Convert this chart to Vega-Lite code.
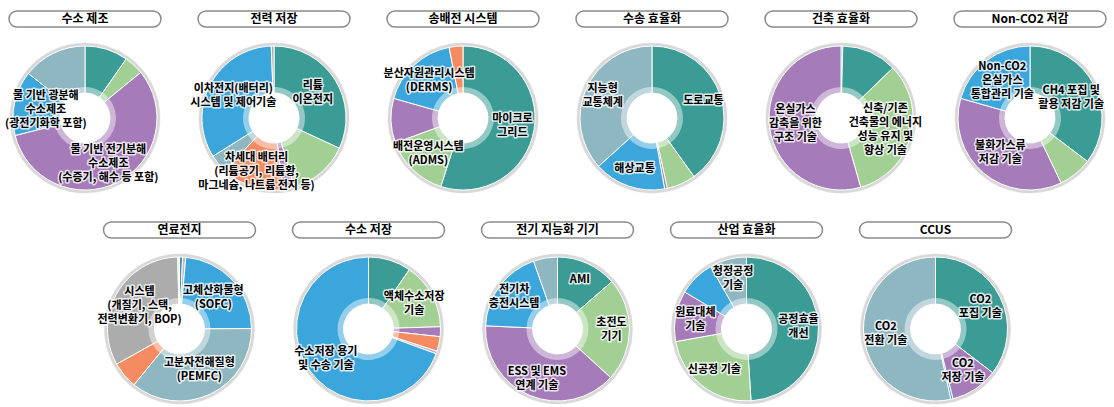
{
  "$schema": "https://vega.github.io/schema/vega-lite/v6.json",
  "background": "white",
  "padding": {"left": 0, "top": 10, "right": 0, "bottom": 0},
  "config": {
    "view": {"stroke": null},
    "style": {
      "halo": {"font": "Noto Sans CJK KR", "fontWeight": "bold", "fontSize": 11, "lineHeight": 14, "lineBreak": "\n", "align": "center", "baseline": "middle", "fill": "white", "stroke": "white", "strokeWidth": 3, "strokeJoin": "round", "strokeOpacity": 0.8, "fillOpacity": 0.8},
      "lbl": {"font": "Noto Sans CJK KR", "fontWeight": "bold", "fontSize": 11, "lineHeight": 14, "lineBreak": "\n", "align": "center", "baseline": "middle", "fill": "#262626"},
      "pilltext": {"font": "Noto Sans CJK KR", "fontWeight": "bold", "fontSize": 12, "fill": "#222222", "align": "center", "baseline": "middle"}
    }
  },
  "data": {"values": [
    {"g": "수소 제조", "r": 1, "v": 9.7, "s": "s1", "lb": ""},
    {"g": "수소 제조", "r": 2, "v": 4.4, "s": "s2", "lb": ""},
    {"g": "수소 제조", "r": 3, "v": 57, "s": "s3", "lb": "물 기반 전기분해\n수소제조\n(수증기, 해수 등 포함)"},
    {"g": "수소 제조", "r": 4, "v": 14.5, "s": "s4", "lb": "물 기반 광분해\n수소제조\n(광전기화학 포함)"},
    {"g": "수소 제조", "r": 5, "v": 14.4, "s": "s5", "lb": ""},
    {"g": "전력 저장", "r": 1, "v": 31.9, "s": "s1", "lb": "리튬\n이온전지"},
    {"g": "전력 저장", "r": 2, "v": 13.6, "s": "s2", "lb": ""},
    {"g": "전력 저장", "r": 3, "v": 2.5, "s": "s3", "lb": ""},
    {"g": "전력 저장", "r": 4, "v": 13.9, "s": "s6", "lb": "차세대 배터리\n(리튬공기, 리튬황,\n마그네슘, 나트륨 전지 등)"},
    {"g": "전력 저장", "r": 5, "v": 4.2, "s": "s5", "lb": ""},
    {"g": "전력 저장", "r": 6, "v": 33.3, "s": "s4", "lb": "이차전지(배터리)\n시스템 및 제어기술"},
    {"g": "전력 저장", "r": 7, "v": 0.6, "s": "s7", "lb": ""},
    {"g": "송배전 시스템", "r": 1, "v": 55, "s": "s1", "lb": "마이크로\n그리드"},
    {"g": "송배전 시스템", "r": 2, "v": 14.4, "s": "s2", "lb": "배전운영시스템\n(ADMS)"},
    {"g": "송배전 시스템", "r": 3, "v": 10, "s": "s3", "lb": ""},
    {"g": "송배전 시스템", "r": 4, "v": 17.5, "s": "s4", "lb": "분산자원관리시스템\n(DERMS)"},
    {"g": "송배전 시스템", "r": 5, "v": 3.1, "s": "s6", "lb": ""},
    {"g": "수송 효율화", "r": 1, "v": 40.1, "s": "s1", "lb": "도로교통"},
    {"g": "수송 효율화", "r": 2, "v": 6.5, "s": "s2", "lb": ""},
    {"g": "수송 효율화", "r": 3, "v": 0.6, "s": "s3", "lb": ""},
    {"g": "수송 효율화", "r": 4, "v": 16.1, "s": "s4", "lb": "해상교통"},
    {"g": "수송 효율화", "r": 5, "v": 36.7, "s": "s5", "lb": "지능형\n교통체계"},
    {"g": "건축 효율화", "r": 1, "v": 0.4, "s": "s4", "lb": ""},
    {"g": "건축 효율화", "r": 2, "v": 12.4, "s": "s1", "lb": ""},
    {"g": "건축 효율화", "r": 3, "v": 32.8, "s": "s2", "lb": "신축/기존\n건축물의 에너지\n성능 유지 및\n향상 기술"},
    {"g": "건축 효율화", "r": 4, "v": 54.4, "s": "s3", "lb": "온실가스\n감축을 위한\n구조 기술"},
    {"g": "Non-CO2 저감", "r": 1, "v": 35.3, "s": "s1", "lb": "CH4 포집 및\n활용 저감 기술"},
    {"g": "Non-CO2 저감", "r": 2, "v": 7.6, "s": "s2", "lb": ""},
    {"g": "Non-CO2 저감", "r": 3, "v": 36.5, "s": "s3", "lb": "불화가스류\n저감 기술"},
    {"g": "Non-CO2 저감", "r": 4, "v": 20.6, "s": "s4", "lb": "Non-CO2\n온실가스\n통합관리 기술"},
    {"g": "연료전지", "r": 1, "v": 0.7, "s": "s1", "lb": ""},
    {"g": "연료전지", "r": 2, "v": 0.7, "s": "s9", "lb": ""},
    {"g": "연료전지", "r": 3, "v": 23.5, "s": "s4", "lb": "고체산화물형\n(SOFC)"},
    {"g": "연료전지", "r": 4, "v": 36, "s": "s5", "lb": "고분자전해질형\n(PEMFC)"},
    {"g": "연료전지", "r": 5, "v": 6, "s": "s6", "lb": ""},
    {"g": "연료전지", "r": 6, "v": 32.7, "s": "s7", "lb": "시스템\n(개질기, 스택,\n전력변환기, BOP)"},
    {"g": "연료전지", "r": 7, "v": 0.4, "s": "s8", "lb": ""},
    {"g": "수소 저장", "r": 1, "v": 9.6, "s": "s1", "lb": ""},
    {"g": "수소 저장", "r": 2, "v": 14.9, "s": "s2", "lb": "액체수소저장\n기술"},
    {"g": "수소 저장", "r": 3, "v": 2.2, "s": "s3", "lb": ""},
    {"g": "수소 저장", "r": 4, "v": 3.3, "s": "s6", "lb": ""},
    {"g": "수소 저장", "r": 5, "v": 0.6, "s": "s9", "lb": ""},
    {"g": "수소 저장", "r": 6, "v": 69.4, "s": "s4", "lb": "수소저장 용기\n및 수송 기술"},
    {"g": "전기 지능화 기기", "r": 1, "v": 13.6, "s": "s1", "lb": "AMI"},
    {"g": "전기 지능화 기기", "r": 2, "v": 23.2, "s": "s2", "lb": "초전도\n기기"},
    {"g": "전기 지능화 기기", "r": 3, "v": 38.9, "s": "s3", "lb": "ESS 및 EMS\n연계 기술"},
    {"g": "전기 지능화 기기", "r": 4, "v": 18.9, "s": "s4", "lb": "전기차\n충전시스템"},
    {"g": "전기 지능화 기기", "r": 5, "v": 5.4, "s": "s5", "lb": ""},
    {"g": "산업 효율화", "r": 1, "v": 49, "s": "s1", "lb": "공정효율\n개선"},
    {"g": "산업 효율화", "r": 2, "v": 23.2, "s": "s2", "lb": "신공정 기술"},
    {"g": "산업 효율화", "r": 3, "v": 11.4, "s": "s3", "lb": "원료대체\n기술"},
    {"g": "산업 효율화", "r": 4, "v": 8.1, "s": "s4", "lb": ""},
    {"g": "산업 효율화", "r": 5, "v": 8.3, "s": "s5", "lb": "청정공정\n기술"},
    {"g": "CCUS", "r": 1, "v": 35.4, "s": "s1", "lb": "CO2\n포집 기술"},
    {"g": "CCUS", "r": 2, "v": 10.7, "s": "s3", "lb": "CO2\n저장 기술"},
    {"g": "CCUS", "r": 3, "v": 0.5, "s": "s4", "lb": ""},
    {"g": "CCUS", "r": 4, "v": 53.4, "s": "s5", "lb": "CO2\n전환 기술"}
  ]},
  "vconcat": [
    {"hconcat": [
      {"vconcat": [
        {"width": 152, "height": 16, "view": {"stroke": "#8a8a8a", "strokeWidth": 1.5, "cornerRadius": 8, "fill": "white"}, "transform": [{"filter": "datum.g=='수소 제조' && datum.r==1"}], "mark": {"type": "text", "style": "pilltext"}, "encoding": {"text": {"field": "g", "type": "nominal"}}},
        {"width": 170, "height": 160, "transform": [{"filter": "datum.g=='수소 제조'"}],
         "encoding": {"theta": {"field": "v", "type": "quantitative", "stack": true}, "order": {"field": "r", "type": "quantitative"}},
         "layer": [
          {"mark": {"type": "arc", "outerRadius": 75, "innerRadius": 71, "fill": "#d8d8d8", "stroke": "#d8d8d8", "strokeWidth": 0.5}},
          {"mark": {"type": "arc", "outerRadius": 72, "innerRadius": 25, "stroke": "white", "strokeWidth": 1}, "encoding": {"color": {"field": "s", "type": "nominal", "legend": null, "scale": {"domain": ["s1","s2","s3","s4","s5","s6","s7","s8","s9"], "range": ["#3b9c96","#a2cf94","#a57bb9","#3ba6db","#8fb7c2","#f58b61","#acacac","#efe7d3","#c5afd9"]}}}},
          {"mark": {"type": "arc", "outerRadius": 31, "innerRadius": 25, "fill": "white", "opacity": 0.45}},
          {"mark": {"type": "text", "style": "halo", "radius": 40, "clip": true, "dy": {"expr": "-7*(length(split(datum.lb, '\\n'))-1)"}}, "encoding": {"text": {"condition": {"test": "datum.r!=3", "field": "lb", "type": "nominal"}, "value": ""}}},
          {"mark": {"type": "text", "style": "lbl", "radius": 40, "clip": true, "dy": {"expr": "-7*(length(split(datum.lb, '\\n'))-1)"}}, "encoding": {"text": {"condition": {"test": "datum.r!=3", "field": "lb", "type": "nominal"}, "value": ""}}},
          {"mark": {"type": "text", "style": "halo", "radius": 52, "clip": true, "dy": {"expr": "-7*(length(split(datum.lb, '\\n'))-1)"}}, "encoding": {"text": {"condition": {"test": "datum.r==3", "field": "lb", "type": "nominal"}, "value": ""}}},
          {"mark": {"type": "text", "style": "lbl", "radius": 52, "clip": true, "dy": {"expr": "-7*(length(split(datum.lb, '\\n'))-1)"}}, "encoding": {"text": {"condition": {"test": "datum.r==3", "field": "lb", "type": "nominal"}, "value": ""}}}
         ]}
      ], "spacing": 11, "bounds": "flush", "center": true},
      {"vconcat": [
        {"width": 152, "height": 16, "view": {"stroke": "#8a8a8a", "strokeWidth": 1.5, "cornerRadius": 8, "fill": "white"}, "transform": [{"filter": "datum.g=='전력 저장' && datum.r==1"}], "mark": {"type": "text", "style": "pilltext"}, "encoding": {"text": {"field": "g", "type": "nominal"}}},
        {"width": 170, "height": 160, "transform": [{"filter": "datum.g=='전력 저장'"}],
         "encoding": {"theta": {"field": "v", "type": "quantitative", "stack": true}, "order": {"field": "r", "type": "quantitative"}},
         "layer": [
          {"mark": {"type": "arc", "outerRadius": 75, "innerRadius": 71, "fill": "#d8d8d8", "stroke": "#d8d8d8", "strokeWidth": 0.5}},
          {"mark": {"type": "arc", "outerRadius": 72, "innerRadius": 25, "stroke": "white", "strokeWidth": 1}, "encoding": {"color": {"field": "s", "type": "nominal", "legend": null, "scale": {"domain": ["s1","s2","s3","s4","s5","s6","s7","s8","s9"], "range": ["#3b9c96","#a2cf94","#a57bb9","#3ba6db","#8fb7c2","#f58b61","#acacac","#efe7d3","#c5afd9"]}}}},
          {"mark": {"type": "arc", "outerRadius": 31, "innerRadius": 25, "fill": "white", "opacity": 0.45}},
          {"mark": {"type": "text", "style": "halo", "radius": 46, "clip": true, "dy": {"expr": "-7*(length(split(datum.lb, '\\n'))-1)"}}, "encoding": {"text": {"condition": {"test": "datum.r!=4", "field": "lb", "type": "nominal"}, "value": ""}}},
          {"mark": {"type": "text", "style": "lbl", "radius": 46, "clip": true, "dy": {"expr": "-7*(length(split(datum.lb, '\\n'))-1)"}}, "encoding": {"text": {"condition": {"test": "datum.r!=4", "field": "lb", "type": "nominal"}, "value": ""}}},
          {"mark": {"type": "text", "style": "halo", "radius": 57, "clip": true, "dy": {"expr": "-7*(length(split(datum.lb, '\\n'))-1)"}}, "encoding": {"text": {"condition": {"test": "datum.r==4", "field": "lb", "type": "nominal"}, "value": ""}}},
          {"mark": {"type": "text", "style": "lbl", "radius": 57, "clip": true, "dy": {"expr": "-7*(length(split(datum.lb, '\\n'))-1)"}}, "encoding": {"text": {"condition": {"test": "datum.r==4", "field": "lb", "type": "nominal"}, "value": ""}}}
         ]}
      ], "spacing": 11, "bounds": "flush", "center": true},
      {"vconcat": [
        {"width": 152, "height": 16, "view": {"stroke": "#8a8a8a", "strokeWidth": 1.5, "cornerRadius": 8, "fill": "white"}, "transform": [{"filter": "datum.g=='송배전 시스템' && datum.r==1"}], "mark": {"type": "text", "style": "pilltext"}, "encoding": {"text": {"field": "g", "type": "nominal"}}},
        {"width": 170, "height": 160, "transform": [{"filter": "datum.g=='송배전 시스템'"}],
         "encoding": {"theta": {"field": "v", "type": "quantitative", "stack": true}, "order": {"field": "r", "type": "quantitative"}},
         "layer": [
          {"mark": {"type": "arc", "outerRadius": 75, "innerRadius": 71, "fill": "#d8d8d8", "stroke": "#d8d8d8", "strokeWidth": 0.5}},
          {"mark": {"type": "arc", "outerRadius": 72, "innerRadius": 25, "stroke": "white", "strokeWidth": 1}, "encoding": {"color": {"field": "s", "type": "nominal", "legend": null, "scale": {"domain": ["s1","s2","s3","s4","s5","s6","s7","s8","s9"], "range": ["#3b9c96","#a2cf94","#a57bb9","#3ba6db","#8fb7c2","#f58b61","#acacac","#efe7d3","#c5afd9"]}}}},
          {"mark": {"type": "arc", "outerRadius": 31, "innerRadius": 25, "fill": "white", "opacity": 0.45}},
          {"mark": {"type": "text", "style": "halo", "radius": 50, "clip": true, "dy": {"expr": "-7*(length(split(datum.lb, '\\n'))-1)"}}, "encoding": {"text": {"field": "lb", "type": "nominal"}}},
          {"mark": {"type": "text", "style": "lbl", "radius": 50, "clip": true, "dy": {"expr": "-7*(length(split(datum.lb, '\\n'))-1)"}}, "encoding": {"text": {"field": "lb", "type": "nominal"}}}
         ]}
      ], "spacing": 11, "bounds": "flush", "center": true},
      {"vconcat": [
        {"width": 152, "height": 16, "view": {"stroke": "#8a8a8a", "strokeWidth": 1.5, "cornerRadius": 8, "fill": "white"}, "transform": [{"filter": "datum.g=='수송 효율화' && datum.r==1"}], "mark": {"type": "text", "style": "pilltext"}, "encoding": {"text": {"field": "g", "type": "nominal"}}},
        {"width": 170, "height": 160, "transform": [{"filter": "datum.g=='수송 효율화'"}],
         "encoding": {"theta": {"field": "v", "type": "quantitative", "stack": true}, "order": {"field": "r", "type": "quantitative"}},
         "layer": [
          {"mark": {"type": "arc", "outerRadius": 75, "innerRadius": 71, "fill": "#d8d8d8", "stroke": "#d8d8d8", "strokeWidth": 0.5}},
          {"mark": {"type": "arc", "outerRadius": 72, "innerRadius": 25, "stroke": "white", "strokeWidth": 1}, "encoding": {"color": {"field": "s", "type": "nominal", "legend": null, "scale": {"domain": ["s1","s2","s3","s4","s5","s6","s7","s8","s9"], "range": ["#3b9c96","#a2cf94","#a57bb9","#3ba6db","#8fb7c2","#f58b61","#acacac","#efe7d3","#c5afd9"]}}}},
          {"mark": {"type": "arc", "outerRadius": 31, "innerRadius": 25, "fill": "white", "opacity": 0.45}},
          {"mark": {"type": "text", "style": "halo", "radius": 54, "clip": true, "dy": {"expr": "-7*(length(split(datum.lb, '\\n'))-1)"}}, "encoding": {"text": {"field": "lb", "type": "nominal"}}},
          {"mark": {"type": "text", "style": "lbl", "radius": 54, "clip": true, "dy": {"expr": "-7*(length(split(datum.lb, '\\n'))-1)"}}, "encoding": {"text": {"field": "lb", "type": "nominal"}}}
         ]}
      ], "spacing": 11, "bounds": "flush", "center": true},
      {"vconcat": [
        {"width": 152, "height": 16, "view": {"stroke": "#8a8a8a", "strokeWidth": 1.5, "cornerRadius": 8, "fill": "white"}, "transform": [{"filter": "datum.g=='건축 효율화' && datum.r==1"}], "mark": {"type": "text", "style": "pilltext"}, "encoding": {"text": {"field": "g", "type": "nominal"}}},
        {"width": 170, "height": 160, "transform": [{"filter": "datum.g=='건축 효율화'"}],
         "encoding": {"theta": {"field": "v", "type": "quantitative", "stack": true}, "order": {"field": "r", "type": "quantitative"}},
         "layer": [
          {"mark": {"type": "arc", "outerRadius": 75, "innerRadius": 71, "fill": "#d8d8d8", "stroke": "#d8d8d8", "strokeWidth": 0.5}},
          {"mark": {"type": "arc", "outerRadius": 72, "innerRadius": 25, "stroke": "white", "strokeWidth": 1}, "encoding": {"color": {"field": "s", "type": "nominal", "legend": null, "scale": {"domain": ["s1","s2","s3","s4","s5","s6","s7","s8","s9"], "range": ["#3b9c96","#a2cf94","#a57bb9","#3ba6db","#8fb7c2","#f58b61","#acacac","#efe7d3","#c5afd9"]}}}},
          {"mark": {"type": "arc", "outerRadius": 31, "innerRadius": 25, "fill": "white", "opacity": 0.45}},
          {"mark": {"type": "text", "style": "halo", "radius": 46, "clip": true, "dy": {"expr": "-7*(length(split(datum.lb, '\\n'))-1)"}}, "encoding": {"text": {"field": "lb", "type": "nominal"}}},
          {"mark": {"type": "text", "style": "lbl", "radius": 46, "clip": true, "dy": {"expr": "-7*(length(split(datum.lb, '\\n'))-1)"}}, "encoding": {"text": {"field": "lb", "type": "nominal"}}}
         ]}
      ], "spacing": 11, "bounds": "flush", "center": true},
      {"vconcat": [
        {"width": 152, "height": 16, "view": {"stroke": "#8a8a8a", "strokeWidth": 1.5, "cornerRadius": 8, "fill": "white"}, "transform": [{"filter": "datum.g=='Non-CO2 저감' && datum.r==1"}], "mark": {"type": "text", "style": "pilltext"}, "encoding": {"text": {"field": "g", "type": "nominal"}}},
        {"width": 170, "height": 160, "transform": [{"filter": "datum.g=='Non-CO2 저감'"}],
         "encoding": {"theta": {"field": "v", "type": "quantitative", "stack": true}, "order": {"field": "r", "type": "quantitative"}},
         "layer": [
          {"mark": {"type": "arc", "outerRadius": 75, "innerRadius": 71, "fill": "#d8d8d8", "stroke": "#d8d8d8", "strokeWidth": 0.5}},
          {"mark": {"type": "arc", "outerRadius": 72, "innerRadius": 25, "stroke": "white", "strokeWidth": 1}, "encoding": {"color": {"field": "s", "type": "nominal", "legend": null, "scale": {"domain": ["s1","s2","s3","s4","s5","s6","s7","s8","s9"], "range": ["#3b9c96","#a2cf94","#a57bb9","#3ba6db","#8fb7c2","#f58b61","#acacac","#efe7d3","#c5afd9"]}}}},
          {"mark": {"type": "arc", "outerRadius": 31, "innerRadius": 25, "fill": "white", "opacity": 0.45}},
          {"mark": {"type": "text", "style": "halo", "radius": 46, "clip": true, "dy": {"expr": "-7*(length(split(datum.lb, '\\n'))-1)"}}, "encoding": {"text": {"field": "lb", "type": "nominal"}}},
          {"mark": {"type": "text", "style": "lbl", "radius": 46, "clip": true, "dy": {"expr": "-7*(length(split(datum.lb, '\\n'))-1)"}}, "encoding": {"text": {"field": "lb", "type": "nominal"}}}
         ]}
      ], "spacing": 11, "bounds": "flush", "center": true}
    ], "spacing": 19},
    {"hconcat": [
      {"vconcat": [
        {"width": 152, "height": 16, "view": {"stroke": "#8a8a8a", "strokeWidth": 1.5, "cornerRadius": 8, "fill": "white"}, "transform": [{"filter": "datum.g=='연료전지' && datum.r==1"}], "mark": {"type": "text", "style": "pilltext"}, "encoding": {"text": {"field": "g", "type": "nominal"}}},
        {"width": 170, "height": 160, "transform": [{"filter": "datum.g=='연료전지'"}],
         "encoding": {"theta": {"field": "v", "type": "quantitative", "stack": true}, "order": {"field": "r", "type": "quantitative"}},
         "layer": [
          {"mark": {"type": "arc", "outerRadius": 75, "innerRadius": 71, "fill": "#d8d8d8", "stroke": "#d8d8d8", "strokeWidth": 0.5}},
          {"mark": {"type": "arc", "outerRadius": 72, "innerRadius": 25, "stroke": "white", "strokeWidth": 1}, "encoding": {"color": {"field": "s", "type": "nominal", "legend": null, "scale": {"domain": ["s1","s2","s3","s4","s5","s6","s7","s8","s9"], "range": ["#3b9c96","#a2cf94","#a57bb9","#3ba6db","#8fb7c2","#f58b61","#acacac","#efe7d3","#c5afd9"]}}}},
          {"mark": {"type": "arc", "outerRadius": 31, "innerRadius": 25, "fill": "white", "opacity": 0.45}},
          {"mark": {"type": "text", "style": "halo", "radius": 46, "clip": true, "dy": {"expr": "-7*(length(split(datum.lb, '\\n'))-1)"}}, "encoding": {"text": {"field": "lb", "type": "nominal"}}},
          {"mark": {"type": "text", "style": "lbl", "radius": 46, "clip": true, "dy": {"expr": "-7*(length(split(datum.lb, '\\n'))-1)"}}, "encoding": {"text": {"field": "lb", "type": "nominal"}}}
         ]}
      ], "spacing": 11, "bounds": "flush", "center": true},
      {"vconcat": [
        {"width": 152, "height": 16, "view": {"stroke": "#8a8a8a", "strokeWidth": 1.5, "cornerRadius": 8, "fill": "white"}, "transform": [{"filter": "datum.g=='수소 저장' && datum.r==1"}], "mark": {"type": "text", "style": "pilltext"}, "encoding": {"text": {"field": "g", "type": "nominal"}}},
        {"width": 170, "height": 160, "transform": [{"filter": "datum.g=='수소 저장'"}],
         "encoding": {"theta": {"field": "v", "type": "quantitative", "stack": true}, "order": {"field": "r", "type": "quantitative"}},
         "layer": [
          {"mark": {"type": "arc", "outerRadius": 75, "innerRadius": 71, "fill": "#d8d8d8", "stroke": "#d8d8d8", "strokeWidth": 0.5}},
          {"mark": {"type": "arc", "outerRadius": 72, "innerRadius": 25, "stroke": "white", "strokeWidth": 1}, "encoding": {"color": {"field": "s", "type": "nominal", "legend": null, "scale": {"domain": ["s1","s2","s3","s4","s5","s6","s7","s8","s9"], "range": ["#3b9c96","#a2cf94","#a57bb9","#3ba6db","#8fb7c2","#f58b61","#acacac","#efe7d3","#c5afd9"]}}}},
          {"mark": {"type": "arc", "outerRadius": 31, "innerRadius": 25, "fill": "white", "opacity": 0.45}},
          {"mark": {"type": "text", "style": "halo", "radius": 52, "clip": true, "dy": {"expr": "-7*(length(split(datum.lb, '\\n'))-1)"}}, "encoding": {"text": {"field": "lb", "type": "nominal"}}},
          {"mark": {"type": "text", "style": "lbl", "radius": 52, "clip": true, "dy": {"expr": "-7*(length(split(datum.lb, '\\n'))-1)"}}, "encoding": {"text": {"field": "lb", "type": "nominal"}}}
         ]}
      ], "spacing": 11, "bounds": "flush", "center": true},
      {"vconcat": [
        {"width": 152, "height": 16, "view": {"stroke": "#8a8a8a", "strokeWidth": 1.5, "cornerRadius": 8, "fill": "white"}, "transform": [{"filter": "datum.g=='전기 지능화 기기' && datum.r==1"}], "mark": {"type": "text", "style": "pilltext"}, "encoding": {"text": {"field": "g", "type": "nominal"}}},
        {"width": 170, "height": 160, "transform": [{"filter": "datum.g=='전기 지능화 기기'"}],
         "encoding": {"theta": {"field": "v", "type": "quantitative", "stack": true}, "order": {"field": "r", "type": "quantitative"}},
         "layer": [
          {"mark": {"type": "arc", "outerRadius": 75, "innerRadius": 71, "fill": "#d8d8d8", "stroke": "#d8d8d8", "strokeWidth": 0.5}},
          {"mark": {"type": "arc", "outerRadius": 72, "innerRadius": 25, "stroke": "white", "strokeWidth": 1}, "encoding": {"color": {"field": "s", "type": "nominal", "legend": null, "scale": {"domain": ["s1","s2","s3","s4","s5","s6","s7","s8","s9"], "range": ["#3b9c96","#a2cf94","#a57bb9","#3ba6db","#8fb7c2","#f58b61","#acacac","#efe7d3","#c5afd9"]}}}},
          {"mark": {"type": "arc", "outerRadius": 31, "innerRadius": 25, "fill": "white", "opacity": 0.45}},
          {"mark": {"type": "text", "style": "halo", "radius": 54, "clip": true, "dy": {"expr": "-7*(length(split(datum.lb, '\\n'))-1)"}}, "encoding": {"text": {"field": "lb", "type": "nominal"}}},
          {"mark": {"type": "text", "style": "lbl", "radius": 54, "clip": true, "dy": {"expr": "-7*(length(split(datum.lb, '\\n'))-1)"}}, "encoding": {"text": {"field": "lb", "type": "nominal"}}}
         ]}
      ], "spacing": 11, "bounds": "flush", "center": true},
      {"vconcat": [
        {"width": 152, "height": 16, "view": {"stroke": "#8a8a8a", "strokeWidth": 1.5, "cornerRadius": 8, "fill": "white"}, "transform": [{"filter": "datum.g=='산업 효율화' && datum.r==1"}], "mark": {"type": "text", "style": "pilltext"}, "encoding": {"text": {"field": "g", "type": "nominal"}}},
        {"width": 170, "height": 160, "transform": [{"filter": "datum.g=='산업 효율화'"}],
         "encoding": {"theta": {"field": "v", "type": "quantitative", "stack": true}, "order": {"field": "r", "type": "quantitative"}},
         "layer": [
          {"mark": {"type": "arc", "outerRadius": 75, "innerRadius": 71, "fill": "#d8d8d8", "stroke": "#d8d8d8", "strokeWidth": 0.5}},
          {"mark": {"type": "arc", "outerRadius": 72, "innerRadius": 25, "stroke": "white", "strokeWidth": 1}, "encoding": {"color": {"field": "s", "type": "nominal", "legend": null, "scale": {"domain": ["s1","s2","s3","s4","s5","s6","s7","s8","s9"], "range": ["#3b9c96","#a2cf94","#a57bb9","#3ba6db","#8fb7c2","#f58b61","#acacac","#efe7d3","#c5afd9"]}}}},
          {"mark": {"type": "arc", "outerRadius": 31, "innerRadius": 25, "fill": "white", "opacity": 0.45}},
          {"mark": {"type": "text", "style": "halo", "radius": 52, "clip": true, "dy": {"expr": "-7*(length(split(datum.lb, '\\n'))-1)"}}, "encoding": {"text": {"field": "lb", "type": "nominal"}}},
          {"mark": {"type": "text", "style": "lbl", "radius": 52, "clip": true, "dy": {"expr": "-7*(length(split(datum.lb, '\\n'))-1)"}}, "encoding": {"text": {"field": "lb", "type": "nominal"}}}
         ]}
      ], "spacing": 11, "bounds": "flush", "center": true},
      {"vconcat": [
        {"width": 152, "height": 16, "view": {"stroke": "#8a8a8a", "strokeWidth": 1.5, "cornerRadius": 8, "fill": "white"}, "transform": [{"filter": "datum.g=='CCUS' && datum.r==1"}], "mark": {"type": "text", "style": "pilltext"}, "encoding": {"text": {"field": "g", "type": "nominal"}}},
        {"width": 170, "height": 160, "transform": [{"filter": "datum.g=='CCUS'"}],
         "encoding": {"theta": {"field": "v", "type": "quantitative", "stack": true}, "order": {"field": "r", "type": "quantitative"}},
         "layer": [
          {"mark": {"type": "arc", "outerRadius": 75, "innerRadius": 71, "fill": "#d8d8d8", "stroke": "#d8d8d8", "strokeWidth": 0.5}},
          {"mark": {"type": "arc", "outerRadius": 72, "innerRadius": 25, "stroke": "white", "strokeWidth": 1}, "encoding": {"color": {"field": "s", "type": "nominal", "legend": null, "scale": {"domain": ["s1","s2","s3","s4","s5","s6","s7","s8","s9"], "range": ["#3b9c96","#a2cf94","#a57bb9","#3ba6db","#8fb7c2","#f58b61","#acacac","#efe7d3","#c5afd9"]}}}},
          {"mark": {"type": "arc", "outerRadius": 31, "innerRadius": 25, "fill": "white", "opacity": 0.45}},
          {"mark": {"type": "text", "style": "halo", "radius": 50, "clip": true, "dy": {"expr": "-7*(length(split(datum.lb, '\\n'))-1)"}}, "encoding": {"text": {"field": "lb", "type": "nominal"}}},
          {"mark": {"type": "text", "style": "lbl", "radius": 50, "clip": true, "dy": {"expr": "-7*(length(split(datum.lb, '\\n'))-1)"}}, "encoding": {"text": {"field": "lb", "type": "nominal"}}}
         ]}
      ], "spacing": 11, "bounds": "flush", "center": true}
    ], "spacing": 19}
  ],
  "spacing": 23,
  "center": true
}
